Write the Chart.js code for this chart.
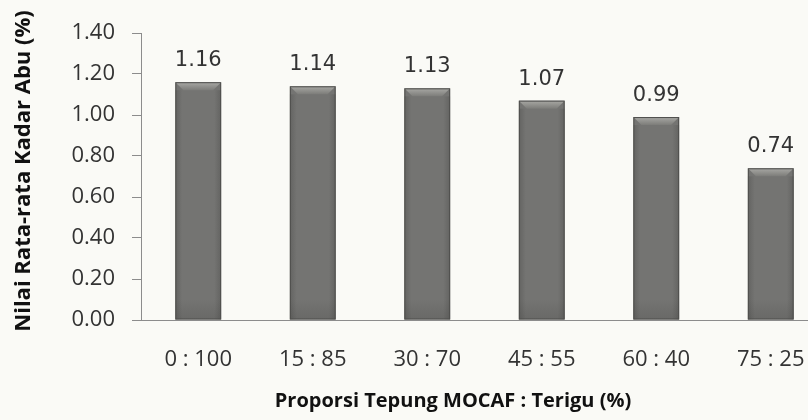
<!DOCTYPE html>
<html>
<head>
<meta charset="utf-8">
<script src="https://cdn.jsdelivr.net/npm/chart.js@4.4.1/dist/chart.umd.min.js"></script>
<style>
  html, body { margin: 0; padding: 0; background: #fafaf6; overflow: hidden; }
  #wrap { width: 830px; height: 420px; }
</style>
</head>
<body>
<div id="wrap"><canvas id="abuChart" width="830" height="420"></canvas></div>
<script>
// kadar abu per proporsi tepung
var proporsi = ["0 : 100", "15 : 85", "30 : 70", "45 : 55", "60 : 40", "75 : 25"];
var kadarAbu = [1.16, 1.14, 1.13, 1.07, 0.99, 0.74];
var yTicks = [0, 0.2, 0.4, 0.6, 0.8, 1.0, 1.2, 1.4];

var judulX = 'Proporsi Tepung MOCAF : Terigu (%)';
var judulY = 'Nilai Rata-rata Kadar Abu (%)';

// value text above bars + bevelled top edge
var barDecor = {
    id: 'barDecor',
    afterDatasetsDraw: function (chart) {
        var ctx = chart.ctx;
        var meta = chart.getDatasetMeta(0);
        meta.data.forEach(function (bar, i) {
            var p = bar.getProps(['x', 'y', 'width', 'base'], true);
            var l = p.x - p.width / 2, r = p.x + p.width / 2, t = p.y, b = p.base;
            var bev = 8;
            ctx.save();
            // top bevel
            var g = ctx.createLinearGradient(0, t, 0, t + bev);
            g.addColorStop(0, '#a9a9a5');
            g.addColorStop(1, '#7c7c79');
            ctx.fillStyle = g;
            ctx.beginPath();
            ctx.moveTo(l, t);
            ctx.lineTo(r, t);
            ctx.lineTo(r - bev, t + bev);
            ctx.lineTo(l + bev, t + bev);
            ctx.closePath();
            ctx.fill();
            // side shading
            var sg = ctx.createLinearGradient(l, 0, r, 0);
            sg.addColorStop(0, 'rgba(40,40,38,0.22)');
            sg.addColorStop(0.15, 'rgba(40,40,38,0)');
            sg.addColorStop(0.85, 'rgba(40,40,38,0)');
            sg.addColorStop(1, 'rgba(40,40,38,0.22)');
            ctx.fillStyle = sg;
            ctx.fillRect(l, t + bev, r - l, b - t - bev);
            // bottom darkening
            var bg = ctx.createLinearGradient(0, b - 20, 0, b);
            bg.addColorStop(0, 'rgba(40,40,38,0)');
            bg.addColorStop(1, 'rgba(40,40,38,0.15)');
            ctx.fillStyle = bg;
            ctx.fillRect(l, b - 20, r - l, 20);
            ctx.strokeStyle = '#4e4e4c';
            ctx.lineWidth = 1;
            ctx.strokeRect(l + 0.5, t + 0.5, r - l - 1, b - t - 1);
            // value label
            ctx.fillStyle = '#333333';
            ctx.font = '21px "DejaVu Sans"';
            ctx.textAlign = 'center';
            ctx.textBaseline = 'bottom';
            ctx.fillText(kadarAbu[i].toFixed(2), p.x, t - 11);
            ctx.restore();
        });
    },
    // axis titles
    afterDraw: function (chart) {
        var ctx = chart.ctx;
        ctx.save();
        ctx.fillStyle = '#111111';
        ctx.textAlign = 'center';
        ctx.textBaseline = 'middle';
        ctx.font = 'bold 20px "Open Sans"';
        ctx.fillText(judulX, 453, 401);
        ctx.translate(24, 171);
        ctx.rotate(-Math.PI / 2);
        ctx.font = 'bold 22px "Open Sans"';
        ctx.fillText(judulY, 0, 0);
        ctx.restore();
    }
};

new Chart(document.getElementById('abuChart').getContext('2d'), {
    type: 'bar',
    data: {
        labels: proporsi,
        datasets: [{
            data: kadarAbu,
            backgroundColor: '#747472',
            borderWidth: 0,
            barPercentage: 0.4,
            categoryPercentage: 1.0
        }]
    },
    options: {
        responsive: false,
        animation: false,
        layout: { padding: { top: 33, right: 2, left: 0, bottom: 0 } },
        plugins: {
            legend: { display: false },
            tooltip: { enabled: false }
        },
        scales: {
            x: {
                grid: { display: false },
                border: { display: true, color: '#8c8c8c', width: 1 },
                ticks: {
                    color: '#333333',
                    font: { family: 'Open Sans', size: 22 },
                    padding: 19
                },
                afterFit: function (scale) { scale.height = 100; }
            },
            y: {
                min: 0,
                max: 1.4,
                afterBuildTicks: function (scale) {
                    scale.ticks = yTicks.map(function (v) { return { value: v }; });
                },
                grid: {
                    drawOnChartArea: false,
                    drawTicks: true,
                    tickLength: 9,
                    color: '#8c8c8c'
                },
                border: { display: true, color: '#8c8c8c', width: 1 },
                ticks: {
                    color: '#333333',
                    font: { family: 'Open Sans', size: 22 },
                    padding: 17,
                    callback: function (v) { return Number(v).toFixed(2); }
                },
                afterFit: function (scale) { scale.width = 141; }
            }
        }
    },
    plugins: [barDecor]
});
</script>
</body>
</html>
